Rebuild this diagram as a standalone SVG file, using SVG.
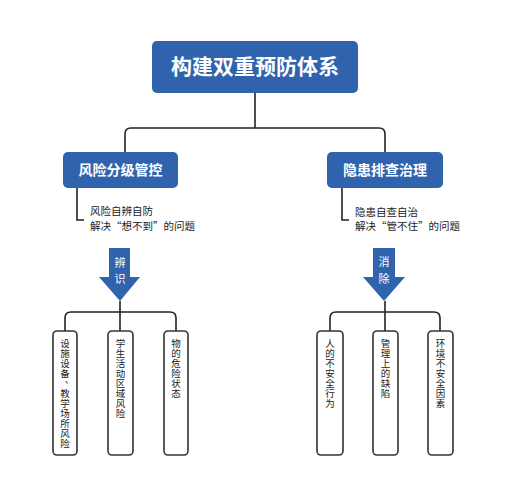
<svg xmlns="http://www.w3.org/2000/svg" width="507" height="500" viewBox="0 0 507 500">
<defs>
<style>
.hdr{fill:#2f63ad;}
.ht{fill:#fff;font-family:"Noto Sans CJK SC","Noto Sans",sans-serif;font-weight:bold;text-anchor:middle;}
.ln{fill:none;stroke:#222;stroke-width:1.6;}
.leaf{fill:#fff;stroke:#333;stroke-width:1.6;}
.lt{fill:#222;font-family:"Noto Sans CJK SC","Noto Sans",sans-serif;font-size:9.5px;text-anchor:middle;dominant-baseline:central;}
.note{fill:#222;font-family:"Noto Sans CJK SC","Noto Sans",sans-serif;font-size:10.5px;}
.arr{fill:#2f63ad;}
.at{fill:#fff;font-family:"Noto Sans CJK SC","Noto Sans",sans-serif;font-size:11px;text-anchor:middle;}
</style>
</defs>
<rect width="507" height="500" fill="#fff"/>
<g id="connectors">
<path class="ln" d="M255 93V128M125 152V134Q125 128 131 128H379Q385 128 385 134V152"/>
<path class="ln" d="M77 188V220H84"/>
<path class="ln" d="M342 188V220H349"/>
<path class="ln" d="M120 301V312M65 331V318Q65 312 71 312H170Q176 312 176 318V331M120 312V331"/>
<path class="ln" d="M385 301V312M330 331V318Q330 312 336 312H434Q440 312 440 318V331M385 312V331"/>
</g>
<g id="root">
<rect class="hdr" x="152" y="41" width="206" height="52" rx="5"/>
<text class="ht" x="255" y="74" font-size="21">构建双重预防体系</text>
</g>
<g id="risk">
<rect class="hdr" x="63" y="152" width="115" height="36" rx="5"/>
<text class="ht" x="120.5" y="175" font-size="14">风险分级管控</text>
</g>
<g id="hazard">
<rect class="hdr" x="327" y="152" width="116" height="36" rx="5"/>
<text class="ht" x="385" y="175" font-size="14">隐患排查治理</text>
</g>
<g id="risk-note">
<text class="note" x="90" y="215">风险自辨自防</text>
<text class="note" x="90" y="230">解决“想不到”的问题</text>
</g>
<g id="hazard-note">
<text class="note" x="355" y="216">隐患自查自治</text>
<text class="note" x="355" y="230">解决“管不住”的问题</text>
</g>
<g id="arrow-identify">
<path class="arr" d="M109 248H130V277H140L120 301L99 277H109Z"/>
<text class="at" x="120" y="267">辨</text>
<text class="at" x="120" y="283">识</text>
</g>
<g id="arrow-eliminate">
<path class="arr" d="M373 248H395V277H405L384 301L363 277H373Z"/>
<text class="at" x="384" y="266">消</text>
<text class="at" x="384" y="283">除</text>
</g>
<g id="leaf1">
<rect class="leaf" x="53" y="331" width="24" height="124" rx="4"/>
<text class="lt"><tspan x="65" y="343">设</tspan><tspan x="65" y="353">施</tspan><tspan x="65" y="363">设</tspan><tspan x="65" y="373">备</tspan><tspan x="69.5" y="378.5">、</tspan><tspan x="65" y="393">教</tspan><tspan x="65" y="403">学</tspan><tspan x="65" y="413">场</tspan><tspan x="65" y="423">所</tspan><tspan x="65" y="433">风</tspan><tspan x="65" y="443">险</tspan></text>
</g>
<g id="leaf2">
<rect class="leaf" x="108" y="331" width="25" height="124" rx="4"/>
<text class="lt"><tspan x="120.5" y="343">学</tspan><tspan x="120.5" y="353">生</tspan><tspan x="120.5" y="363">活</tspan><tspan x="120.5" y="373">动</tspan><tspan x="120.5" y="383">区</tspan><tspan x="120.5" y="393">域</tspan><tspan x="120.5" y="403">风</tspan><tspan x="120.5" y="413">险</tspan></text>
</g>
<g id="leaf3">
<rect class="leaf" x="164" y="331" width="24" height="124" rx="4"/>
<text class="lt"><tspan x="176" y="343">物</tspan><tspan x="176" y="353">的</tspan><tspan x="176" y="363">危</tspan><tspan x="176" y="373">险</tspan><tspan x="176" y="383">状</tspan><tspan x="176" y="393">态</tspan></text>
</g>
<g id="leaf4">
<rect class="leaf" x="317" y="331" width="26" height="124" rx="4"/>
<text class="lt"><tspan x="330" y="343">人</tspan><tspan x="330" y="353">的</tspan><tspan x="330" y="363">不</tspan><tspan x="330" y="373">安</tspan><tspan x="330" y="383">全</tspan><tspan x="330" y="393">行</tspan><tspan x="330" y="403">为</tspan></text>
</g>
<g id="leaf5">
<rect class="leaf" x="373" y="331" width="25" height="124" rx="4"/>
<text class="lt"><tspan x="385.5" y="343">管</tspan><tspan x="385.5" y="353">理</tspan><tspan x="385.5" y="363">上</tspan><tspan x="385.5" y="373">的</tspan><tspan x="385.5" y="383">缺</tspan><tspan x="385.5" y="393">陷</tspan></text>
</g>
<g id="leaf6">
<rect class="leaf" x="428" y="331" width="25" height="124" rx="4"/>
<text class="lt"><tspan x="440.5" y="343">环</tspan><tspan x="440.5" y="353">境</tspan><tspan x="440.5" y="363">不</tspan><tspan x="440.5" y="373">安</tspan><tspan x="440.5" y="383">全</tspan><tspan x="440.5" y="393">因</tspan><tspan x="440.5" y="403">素</tspan></text>
</g>
</svg>
